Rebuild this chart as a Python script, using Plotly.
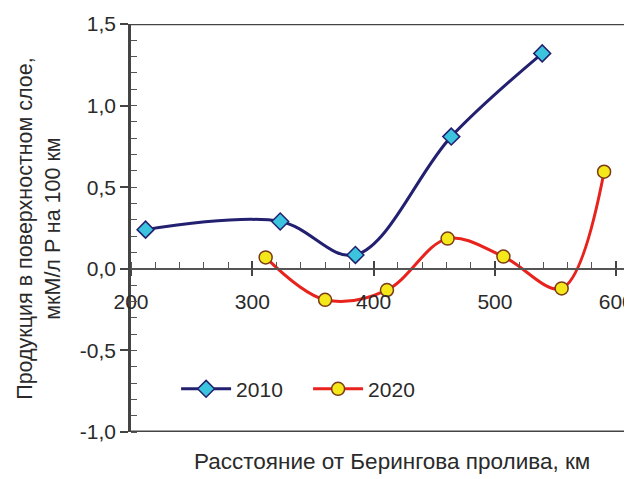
import plotly.graph_objects as go

# Data
x_2010 = [212, 323, 385, 464, 539]
y_2010 = [0.24, 0.29, 0.085, 0.81, 1.32]
x_2020 = [311, 360, 411, 461, 507, 555, 590]
y_2020 = [0.07, -0.19, -0.13, 0.185, 0.075, -0.12, 0.595]
y_ticks = [-1.0, -0.5, 0.0, 0.5, 1.0, 1.5]
y_tick_labels = ["-1,0", "-0,5", "0,0", "0,5", "1,0", "1,5"]
x_ticks = [200, 300, 400, 500, 600]
x_tick_labels = ["200", "300", "400", "500", "600"]

TXT = "#2a2a2a"
FONT = "Liberation Sans, Arial, sans-serif"

fig = go.Figure()
fig.add_trace(go.Scatter(
    x=x_2010, y=y_2010, name="2010", mode="lines+markers",
    line=dict(color="#232070", width=3, shape="spline", smoothing=1.0),
    marker=dict(symbol="diamond", size=13, color="#3cc3dd",
                line=dict(color="#232070", width=1.5)),
))
fig.add_trace(go.Scatter(
    x=x_2020, y=y_2020, name="2020", mode="lines+markers",
    line=dict(color="#e8221c", width=3, shape="spline", smoothing=1.0),
    marker=dict(symbol="circle", size=13, color="#f4e81a",
                line=dict(color="#7a3a18", width=1.5)),
))
# empty trace so xaxis2 is drawn
fig.add_trace(go.Scatter(x=[], y=[], xaxis="x2", showlegend=False, hoverinfo="skip"))

XR = [200, 613]
YR = [-1.0, 1.5]
zero_pos = (0 - YR[0]) / (YR[1] - YR[0])

fig.update_layout(
    width=624, height=471,
    margin=dict(l=123, r=0, t=16, b=47, autoexpand=False),
    paper_bgcolor="white", plot_bgcolor="white",
    separators=", ",
    font=dict(family=FONT, size=21, color=TXT),
    showlegend=True,
    legend=dict(orientation="h", x=0.09, y=0.105, xanchor="left", yanchor="middle",
                bgcolor="rgba(0,0,0,0)", font=dict(size=21, color=TXT),
                entrywidth=67, entrywidthmode="pixels", itemwidth=50),
    xaxis=dict(
        range=XR, anchor="free", position=zero_pos, automargin=False,
        tickvals=x_ticks, ticktext=x_tick_labels,
        ticks="outside", ticklen=6, tickwidth=1.5, tickcolor="#444",
        ticklabelstandoff=8, ticklabeloverflow="allow",
        showline=True, linecolor="#555", linewidth=1.5,
        showgrid=False, zeroline=False,
        minor=dict(dtick=20, tick0=200, ticks="inside", ticklen=6,
                   tickwidth=1.2, tickcolor="#555", showgrid=False),
        tickfont=dict(size=21, color=TXT),
    ),
    xaxis2=dict(
        range=XR, matches="x", overlaying="x", anchor="free", position=zero_pos,
        automargin=False,
        tickvals=x_ticks, ticks="inside", ticklen=8, tickwidth=1.5, tickcolor="#444",
        showticklabels=False, showline=False, showgrid=False, zeroline=False,
    ),
    yaxis=dict(
        range=YR, tickvals=y_ticks, ticktext=y_tick_labels, automargin=False,
        ticks="outside", ticklen=8, tickwidth=1.5, tickcolor="#444",
        showline=True, linecolor="#444", linewidth=2.5,
        showgrid=False, zeroline=False,
        minor=dict(dtick=0.1, ticks="inside", ticklen=6, tickwidth=1.2,
                   tickcolor="#555", showgrid=False),
        tickfont=dict(size=21, color=TXT),
    ),
    shapes=[
        dict(type="line", xref="paper", yref="y", x0=0, x1=1, y0=YR[1], y1=YR[1],
             line=dict(color="#444", width=2.5)),
        dict(type="line", xref="paper", yref="y", x0=0, x1=1, y0=YR[0], y1=YR[0],
             line=dict(color="#444", width=3)),
    ],
    annotations=[
        dict(text="Продукция в поверхностном слое,<br>мкМ/л P на 100 км",
             xref="paper", yref="paper", x=-0.184, y=0.5, textangle=-90,
             showarrow=False, xanchor="center", yanchor="middle",
             font=dict(size=21.5, color=TXT), align="center"),
        dict(text="Расстояние от Берингова пролива, км",
             xref="paper", yref="paper", x=0.521, y=-0.0735,
             showarrow=False, xanchor="center", yanchor="middle",
             font=dict(size=22.5, color=TXT)),
    ],
)

fig.write_html("out.html")
